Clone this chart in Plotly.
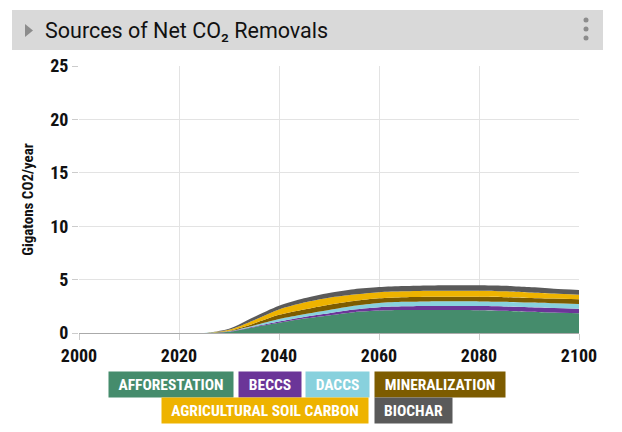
import plotly.graph_objects as go

years = [2000, 2005, 2010, 2015, 2020, 2025, 2030, 2035, 2040, 2045, 2050,
         2055, 2060, 2065, 2070, 2075, 2080, 2085, 2090, 2095, 2100]

series_names = ["AFFORESTATION", "BECCS", "DACCS", "MINERALIZATION",
                "AGRICULTURAL SOIL CARBON", "BIOCHAR"]

afforestation = [0, 0, 0, 0, 0, 0, 0.12, 0.55, 0.95, 1.35, 1.65, 1.95, 2.10, 2.15, 2.15, 2.15, 2.13, 2.08, 2.00, 1.92, 1.84]
beccs         = [0, 0, 0, 0, 0, 0, 0.02, 0.05, 0.12, 0.15, 0.20, 0.25, 0.32, 0.35, 0.38, 0.38, 0.39, 0.40, 0.42, 0.43, 0.44]
daccs         = [0, 0, 0, 0, 0, 0, 0.02, 0.10, 0.23, 0.25, 0.30, 0.35, 0.40, 0.42, 0.43, 0.44, 0.44, 0.44, 0.43, 0.43, 0.44]
mineralization= [0, 0, 0, 0, 0, 0, 0.04, 0.20, 0.40, 0.45, 0.50, 0.45, 0.43, 0.43, 0.44, 0.43, 0.43, 0.43, 0.43, 0.44, 0.43]
soil_carbon   = [0, 0, 0, 0, 0, 0, 0.10, 0.30, 0.50, 0.65, 0.65, 0.60, 0.57, 0.55, 0.55, 0.56, 0.56, 0.55, 0.52, 0.48, 0.44]
biochar       = [0, 0, 0, 0, 0, 0, 0.10, 0.30, 0.35, 0.40, 0.45, 0.50, 0.48, 0.50, 0.50, 0.51, 0.52, 0.52, 0.50, 0.45, 0.44]

series_values = [afforestation, beccs, daccs, mineralization, soil_carbon, biochar]
colors = ["#458c6c", "#6b3598", "#88d1dd", "#7d5c00", "#eeb300", "#5a5a5a"]

x_ticks = [2000, 2020, 2040, 2060, 2080, 2100]
y_ticks = [0, 5, 10, 15, 20, 25]

COND = "Roboto Condensed, Liberation Sans Narrow, Roboto, sans-serif"

fig = go.Figure()
for name, vals, col in zip(series_names, series_values, colors):
    fig.add_trace(go.Scatter(
        x=years, y=vals, name=name, mode="lines", stackgroup="one",
        line=dict(width=0, color=col, shape="spline", smoothing=0.8),
        fillcolor=col, showlegend=False))

# page has an 8px body margin; work in screenshot pixels and convert
OFF = 8
W, H = 614, 424
L, R, T, B = 71, 43, 58, 99
pw, ph = W - L - R, H - T - B

def px_x(p):
    return (p - OFF - L) / pw

def px_y(p):
    return (H - B - (p - OFF)) / ph

shapes = [
    dict(type="rect", xref="paper", yref="paper",
         x0=px_x(12), x1=px_x(603), y0=px_y(50), y1=px_y(10),
         fillcolor="#d9d9d9", line=dict(width=0), layer="below"),
    dict(type="path", xref="paper", yref="paper",
         path="M %f,%f L %f,%f L %f,%f Z" % (px_x(25), px_y(24), px_x(25), px_y(37), px_x(33), px_y(30.5)),
         fillcolor="#8c8c8c", line=dict(width=0)),
]
for cy in (20, 29, 38):
    shapes.append(dict(type="circle", xref="paper", yref="paper",
                       x0=px_x(583.5), x1=px_x(588.5), y0=px_y(cy + 2.5), y1=px_y(cy - 2.5),
                       fillcolor="#8c8c8c", line=dict(width=0)))

annotations = [
    dict(text="Sources of Net CO₂ Removals", xref="paper", yref="paper",
         x=px_x(43), y=px_y(31), xanchor="left", yanchor="middle", showarrow=False,
         font=dict(family="Roboto, sans-serif", size=21.5, color="#111111")),
]

legend_pos = [(171, 384), (270, 384), (337.5, 384), (440, 384), (265, 410), (413.5, 410)]
legend_w = [124, 62, 63, 130, 206, 77]
for name, col, (cx, cy), w in zip(series_names, colors, legend_pos, legend_w):
    annotations.append(dict(
        text="<b>%s</b>" % name, xref="paper", yref="paper",
        x=px_x(cx), y=px_y(cy), xanchor="center", yanchor="middle",
        showarrow=False, bgcolor=col, width=w, height=25, borderpad=0,
        font=dict(family=COND, size=15.5, color="white")))

fig.update_layout(
    width=W, height=H,
    margin=dict(l=L, r=R, t=T, b=B),
    paper_bgcolor="white", plot_bgcolor="white",
    shapes=shapes, annotations=annotations,
    xaxis=dict(range=[2000, 2100], tickvals=x_ticks, ticktext=[str(v) for v in x_ticks],
               showgrid=True, gridcolor="#e3e3e3", gridwidth=1,
               ticks="outside", ticklen=6, tickcolor="#cccccc",
               showline=False, zeroline=False,
               tickfont=dict(family=COND, size=18, color="#111111", weight="bold")),
    yaxis=dict(range=[0, 25], tickvals=y_ticks, ticktext=[str(v) for v in y_ticks],
               showgrid=True, gridcolor="#e3e3e3", gridwidth=1,
               ticks="outside", ticklen=6, tickcolor="#cccccc",
               zeroline=True, zerolinecolor="#aaaaaa", zerolinewidth=1,
               title=dict(text="<b>Gigatons CO2/year</b>", standoff=12,
                          font=dict(family=COND, size=15, color="#111111")),
               tickfont=dict(family=COND, size=18, color="#111111", weight="bold")),
)

fig.write_html("out.html")
